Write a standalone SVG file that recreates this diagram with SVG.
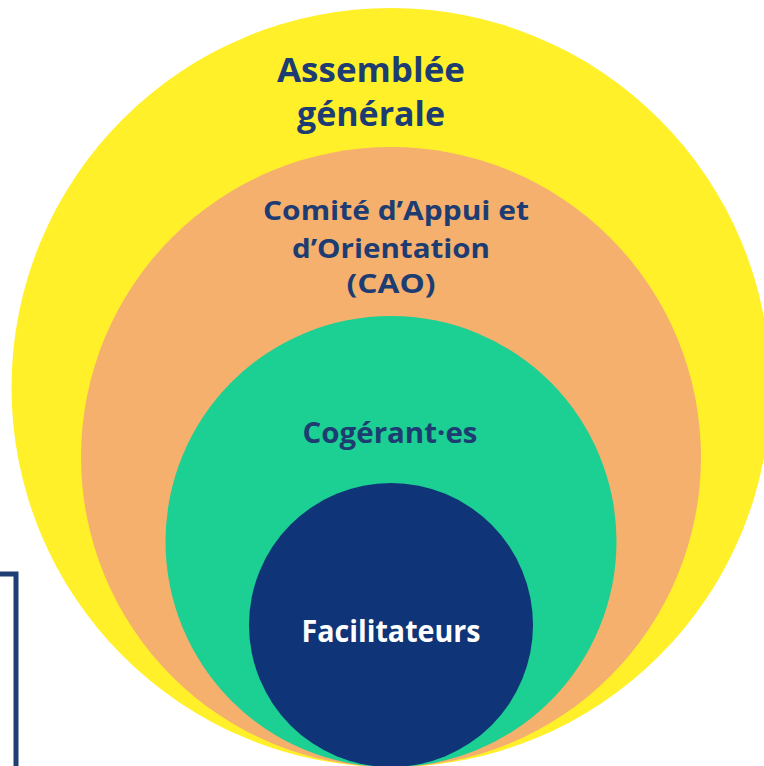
<svg xmlns="http://www.w3.org/2000/svg" width="764" height="766" viewBox="0 0 764 766">
<style>
.t{font-family:"Open Sans","Noto Sans","Liberation Sans",sans-serif;font-weight:bold;text-anchor:middle;fill:#1d3c72}
</style>
<rect x="0" y="0" width="764" height="766" fill="#ffffff"/>
<g id="rect-frame"><rect x="-20" y="574" width="36" height="200" fill="#ffffff" stroke="#1f3f74" stroke-width="5"/></g>
<g id="assemblee">
<circle cx="391" cy="387.5" r="379.5" fill="#fff02a"/>
<text class="t" x="371" y="82" font-size="34" textLength="188" lengthAdjust="spacingAndGlyphs">Assemblée</text>
<text class="t" x="371" y="126" font-size="34" textLength="148" lengthAdjust="spacingAndGlyphs">générale</text>
</g>
<g id="cao">
<circle cx="391" cy="457" r="310" fill="#f6b06e"/>
<text class="t" x="396" y="220" font-size="27" textLength="266" lengthAdjust="spacingAndGlyphs">Comité d’Appui et</text>
<text class="t" x="391" y="258" font-size="27" textLength="198" lengthAdjust="spacingAndGlyphs">d’Orientation</text>
<text class="t" x="391" y="293" font-size="27" textLength="89" lengthAdjust="spacingAndGlyphs">(CAO)</text>
</g>
<g id="cogerants">
<circle cx="391" cy="541.5" r="225.5" fill="#1ccf92"/>
<text class="t" x="390" y="443" font-size="29" textLength="175" lengthAdjust="spacingAndGlyphs">Cogérant·es</text>
</g>
<g id="facilitateurs">
<circle cx="391" cy="625" r="142" fill="#0f3477"/>
<text class="t" x="391" y="642" font-size="30" textLength="179" lengthAdjust="spacingAndGlyphs" style="fill:#ffffff">Facilitateurs</text>
</g>
<g id="connectors"></g>
</svg>
